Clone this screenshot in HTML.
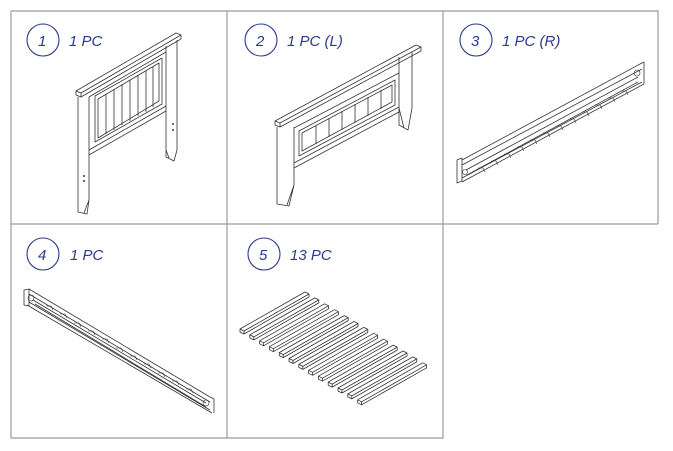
<!DOCTYPE html>
<html><head><meta charset="utf-8"><style>
html,body{margin:0;padding:0;background:#fff;}
svg{display:block}
text{font-family:"Liberation Sans",sans-serif;font-style:italic;font-size:15px;fill:#2b3a8c}
</style></head><body>
<svg width="673" height="451" viewBox="0 0 673 451" xmlns="http://www.w3.org/2000/svg">
<g stroke="#9a9a9a" stroke-width="1.2" fill="none">
<path d="M11 11H658V224M11 11V438H443V11M227 11V438M11 224H658"/>
</g>
<g stroke="#2b3a8c" stroke-width="1.1" fill="none">
<circle cx="43" cy="40" r="16"/><circle cx="261" cy="40" r="16"/><circle cx="476" cy="40" r="16"/>
<circle cx="43" cy="254" r="16"/><circle cx="264" cy="254" r="16"/>
</g>
<text x="38" y="46">1</text><text x="69" y="46">1 PC</text>
<text x="256" y="46">2</text><text x="287" y="46">1 PC (L)</text>
<text x="471" y="46">3</text><text x="502" y="46">1 PC (R)</text>
<text x="38" y="260">4</text><text x="70" y="260">1 PC</text>
<text x="259" y="260">5</text><text x="290" y="260">13 PC</text>

<g stroke="#333" stroke-width="0.8" fill="none" stroke-linejoin="round">
<!-- headboard 1 -->
<path d="M76 91L176 33L181 35L181 39L81 97L76 95Z M76 91L81 93L181 35 M81 93V97"/>
<path d="M78 97V212L87 214L89 200V97 M89 200L84 213"/>
<path d="M166 46V157L174 161L177 150V40 M166 150L169 158"/>
<path d="M89 97L166 52 M89 150L166 106 M89 155L166 111"/>
<path d="M95 96L162 58V104L95 142Z M98 99L159 63V101L98 138Z"/>
<path d="M106 94V134 M114 89V130 M122 84V125 M130 80V121 M138 75V116 M146 71V112 M153 67V107"/>
<circle cx="84" cy="176" r="0.6"/><circle cx="84" cy="181" r="0.6"/><circle cx="173" cy="124" r="0.6"/><circle cx="173" cy="130" r="0.6"/>
<!-- headboard 2 -->
<path d="M275 121L416 45L421 47L421 51L280 127L275 125Z M275 121L280 123L421 47 M280 123V127"/>
<path d="M277 127V204L289 206L294 185V127 M294 185L287 205"/>
<path d="M399 57V125L408 130L412 108V52 M399 108L404 128"/>
<path d="M294 128L399 73 M294 163L399 107 M294 168L399 112"/>
<path d="M299 131L395 80V105L299 156Z M302 133L392 85V102L302 151Z"/>
<path d="M316 125V144 M329 118V137 M342 111V130 M355 104V123 M368 97V116 M381 90V109"/>
<!-- rail 3 -->
<path d="M457 160L462 158V181L457 183Z M462 160L640 64 M462 165L642 69 M462 178L642 82 M462 182L644 84 M640 64L644 62V84"/>
<path d="M466 170L638 77 M467 175L638 82"/>
<g stroke-width="0.6">
<path d="M478 168h5l2 4 M491 161h5l2 4 M504 154h5l2 4 M517 147h5l2 4 M530 140h5l2 4 M543 133h5l2 4 M556 126h5l2 4 M569 119h5l2 4 M582 112h5l2 4 M595 105h5l2 4 M608 98h5l2 4 M621 91h5l2 4"/>
<circle cx="637" cy="73" r="3"/><circle cx="465" cy="172" r="2.5"/>
</g>
<!-- rail 4 -->
<path d="M24 290L29 289V306L24 305Z M29 289L210 397 M29 294L210 402 M29 302L210 410 M27 305L212 413 M210 397L214 399V413"/>
<path d="M33 300L206 403 M35 304L206 407"/>
<g stroke-width="0.6">
<path d="M46 306h5l2 4 M60 314h5l2 4 M74 323h5l2 4 M88 331h5l2 4 M102 339h5l2 4 M116 348h5l2 4 M130 356h5l2 4 M144 364h5l2 4 M158 373h5l2 4 M172 381h5l2 4 M186 389h5l2 4"/>
<circle cx="31" cy="298" r="3"/><circle cx="206" cy="403" r="3"/>
</g>
<!-- slats -->
<g id="s"><path d="M240 329L305 292L309 294L244 331Z M240 329V332L244 334L309 297V294 M244 331V334"/></g>
<use href="#s" x="9.8" y="5.9"/><use href="#s" x="19.6" y="11.8"/><use href="#s" x="29.4" y="17.7"/>
<use href="#s" x="39.2" y="23.6"/><use href="#s" x="49" y="29.5"/><use href="#s" x="58.8" y="35.4"/>
<use href="#s" x="68.6" y="41.3"/><use href="#s" x="78.4" y="47.2"/><use href="#s" x="88.2" y="53.1"/>
<use href="#s" x="98" y="59"/><use href="#s" x="107.8" y="64.9"/><use href="#s" x="117.6" y="70.8"/>
</g>
</svg>
</body></html>
